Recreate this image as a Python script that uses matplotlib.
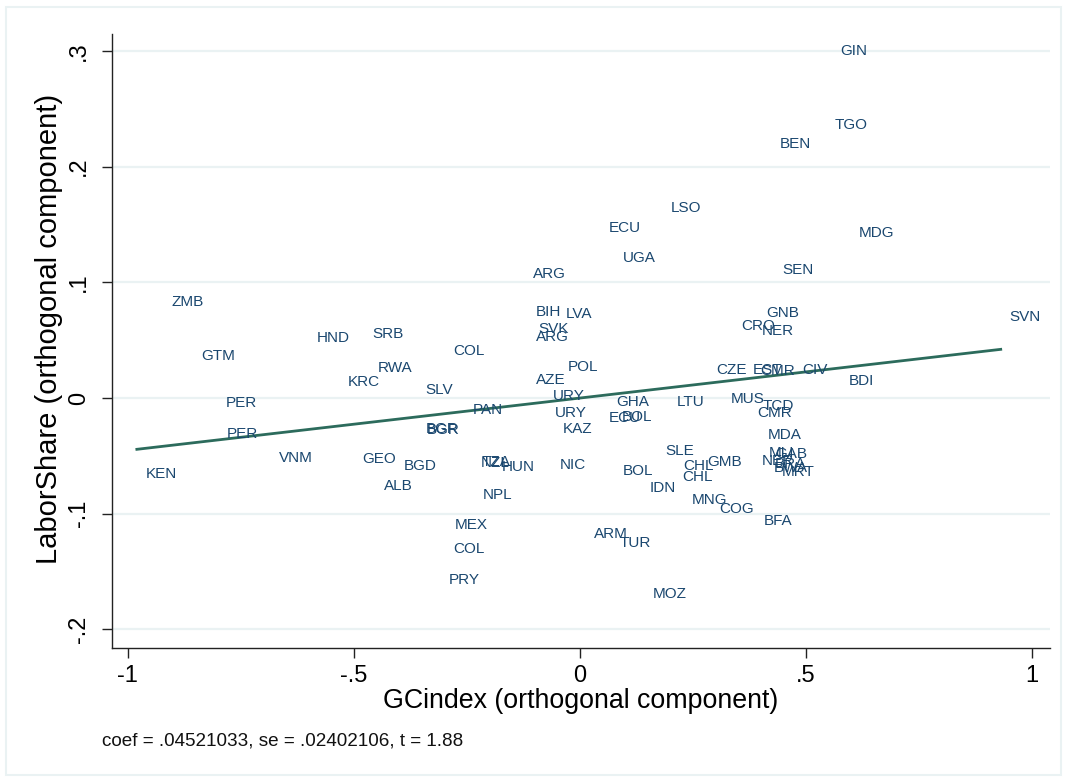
import numpy as np
import matplotlib
matplotlib.use("Agg")
import matplotlib.pyplot as plt
from matplotlib.patches import Rectangle

plt.rcParams['font.family'] = ['Liberation Sans', 'DejaVu Sans']

# country labels and residual coordinates
codes = ["GIN", "TGO", "BEN", "LSO", "ECU", "UGA", "ARG", "MDG", "SEN", "ZMB",
         "SVN", "GNB", "CRO", "NER", "BIH", "LVA", "SVK", "ARG", "HND", "SRB",
         "GTM", "COL", "RWA", "KRC", "POL", "AZE", "SLV", "URY", "CZE", "EST",
         "CMR", "CIV", "BDI", "PER", "PER", "PAN", "BGR", "BGR", "URY", "KAZ",
         "GHA", "ECU", "BOL", "LTU", "MUS", "TCD", "CMR", "MDA", "MLI", "GAB",
         "NER", "BRA", "BWA", "MRT", "BFA", "GMB", "CHL", "CHL", "SLE", "BOL",
         "IDN", "MNG", "COG", "NIC", "HUN", "TZA", "NZL", "NPL", "VNM", "GEO",
         "BGD", "ALB", "KEN", "MEX", "COL", "PRY", "ARM", "TUR", "MOZ"]

gc_resid = [0.555, 0.544, 0.423, 0.181, 0.044, 0.075, -0.124, 0.597, 0.427, -0.923,
            0.931, 0.392, 0.336, 0.383, -0.117, -0.051, -0.111, -0.117, -0.602, -0.478,
            -0.858, -0.301, -0.467, -0.533, -0.046, -0.117, -0.361, -0.080, 0.281, 0.363,
            0.378, 0.473, 0.575, -0.803, -0.801, -0.257, -0.361, -0.359, -0.075, -0.058,
            0.060, 0.044, 0.073, 0.195, 0.314, 0.385, 0.372, 0.396, 0.398, 0.412,
            0.383, 0.412, 0.410, 0.427, 0.387, 0.261, 0.208, 0.206, 0.170, 0.075,
            0.135, 0.228, 0.288, -0.064, -0.192, -0.237, -0.239, -0.234, -0.686, -0.502,
            -0.409, -0.454, -0.980, -0.296, -0.301, -0.310, 0.011, 0.069, 0.142]

ls_resid = [0.300, 0.236, 0.2195, 0.164, 0.147, 0.121, 0.107, 0.1426, 0.1106, 0.083,
            0.070, 0.0735, 0.062, 0.058, 0.0743, 0.0726, 0.0596, 0.0527, 0.0519, 0.0553,
            0.0363, 0.0406, 0.0259, 0.0138, 0.0268, 0.0156, 0.0069, 0.0017, 0.0242, 0.0242,
            0.0235, 0.0242, 0.0147, -0.0043, -0.031, -0.0104, -0.0268, -0.0276, -0.013, -0.0268,
            -0.0035, -0.0173, -0.0164, -0.0035, -0.0009, -0.0069, -0.013, -0.032, -0.0475, -0.0485,
            -0.0545, -0.0570, -0.0605, -0.0640, -0.106, -0.0553, -0.0588, -0.0683, -0.0458, -0.0631,
            -0.0778, -0.0882, -0.0959, -0.0579, -0.0596, -0.0553, -0.0560, -0.0838, -0.0519, -0.0527,
            -0.0588, -0.076, -0.0657, -0.1098, -0.1305, -0.1573, -0.1175, -0.1253, -0.1694]

coef = 0.04521033
se = 0.02402106
tstat = 1.88

yticks = [-0.2, -0.1, 0, 0.1, 0.2, 0.3]
ytick_labels = ["-.2", "-.1", "0", ".1", ".2", ".3"]
xticks = [-1, -0.5, 0, 0.5, 1]
xtick_labels = ["-1", "-.5", "0", ".5", "1"]

label_col = "#1a476f"
line_col = "#2c6b5c"
grid_col = "#eaf2f3"

fig = plt.figure(figsize=(10.67, 7.8), dpi=100)
ax = fig.add_axes([112 / 1067, 132 / 780, (1050 - 112) / 1067, (648 - 34) / 780])

ax.set_xlim(-1.035, 1.04)
ax.set_ylim(-0.216, 0.3146)

for yv in yticks:
    ax.axhline(yv, color=grid_col, lw=1.6, zorder=0)

# fitted line over the range of the data
xs = np.array([min(gc_resid), max(gc_resid)])
ax.plot(xs, coef * xs, color=line_col, lw=2.0, zorder=2)

for c, xv, yv in zip(codes, gc_resid, ls_resid):
    ax.annotate(c, (xv, yv), xytext=(6.5, 0), textcoords="offset points",
                ha="left", va="center", fontsize=11, color=label_col, zorder=3)

ax.spines["top"].set_visible(False)
ax.spines["right"].set_visible(False)
for s in ["left", "bottom"]:
    ax.spines[s].set_color("#222222")
    ax.spines[s].set_linewidth(1.0)

ax.set_yticks(yticks)
ax.set_yticklabels(ytick_labels, rotation=90, va="center", fontsize=17)
ax.set_xticks(xticks)
ax.set_xticklabels(xtick_labels, fontsize=17)
ax.tick_params(axis="both", direction="out", length=7, width=1.0, color="#222222")
ax.tick_params(axis="y", pad=9)
ax.tick_params(axis="x", pad=5)

ax.set_xlabel("GCindex (orthogonal component)", fontsize=19.3, labelpad=1)
ax.set_ylabel("LaborShare (orthogonal component)", fontsize=21)
ax.yaxis.set_label_coords(-0.052, 0.52)

def stata_num(v):
    # Stata drops the leading zero
    s = f"{v:.8f}"
    return s[1:] if s.startswith("0") else s

fig.text(102 / 1067, 1 - 741 / 780,
         f"coef = {stata_num(coef)}, se = {stata_num(se)}, t = {tstat:.2f}",
         fontsize=13.6, va="center", ha="left", color="#111111")

fig.patches.append(Rectangle((6 / 1067, 5 / 780), 1055 / 1067, 768 / 780,
                             transform=fig.transFigure, fill=False,
                             edgecolor=grid_col, lw=1.5))

fig.savefig("out.png", dpi=100, facecolor="white")
